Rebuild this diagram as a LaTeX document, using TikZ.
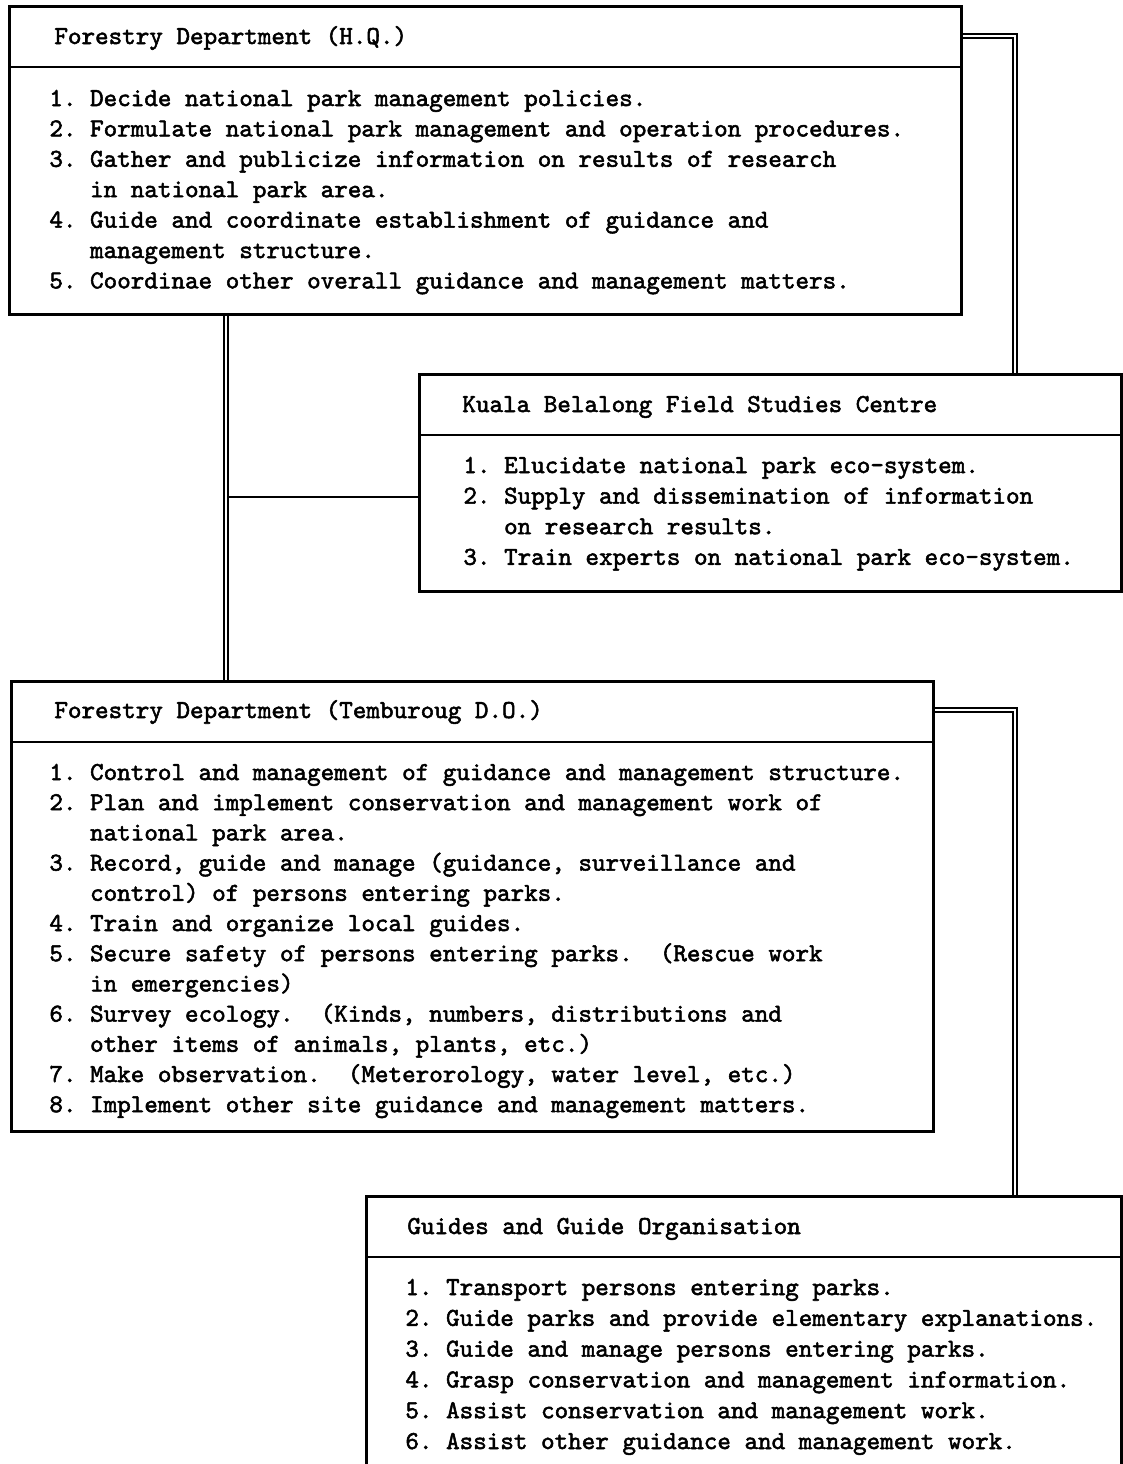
\documentclass[tikz,border=0pt]{standalone}
\usepackage{fontspec}
\newfontfamily\listfont[FakeBold=2]{lmmono10-regular.otf}
\usetikzlibrary{backgrounds}

\tikzset{
  unit/.style={draw, line width=1.4pt, anchor=north west, inner sep=0pt},
  head/.style={anchor=west, inner sep=0pt, text height=9pt, text depth=1pt,
    font=\listfont\fontsize{12.92}{15}\selectfont\frenchspacing},
  item/.style={head},
  rule/.style={line width=0.7pt},
  link/.style={line width=0.7pt},
  dbl/.style={double, line width=0.7pt, double distance=1.3pt}
}
\newcommand\ind{\hphantom{0.\ }}

\begin{document}
\begin{tikzpicture}[x=0.5pt, y=-0.5pt]
\clip (0,0) rectangle (1123,1464);

% head office
\node[unit, minimum width=476pt, minimum height=154pt] (hq) at (8,5) {};
\draw[rule] ([yshift=-31pt]hq.north west) -- ([yshift=-31pt]hq.north east);
\node[head] (hqhead) at (54,36) {Forestry Department (H.Q.)};
\foreach \txt [count=\i] in {
  {1. Decide national park management policies.},
  {2. Formulate national park management and operation procedures.},
  {3. Gather and publicize information on results of research},
  {\ind in national park area.},
  {4. Guide and coordinate establishment of guidance and},
  {\ind management structure.},
  {5. Coordinae other overall guidance and management matters.}}
  \node[item] (hq\i) at (49,98+30.4*\i-30.4) {\txt};

% field studies centre
\node[unit, minimum width=351pt, minimum height=108.5pt] (fsc) at (418,373) {};
\draw[rule] ([yshift=-31pt]fsc.north west) -- ([yshift=-31pt]fsc.north east);
\node[head] (fschead) at (462,404) {Kuala Belalong Field Studies Centre};
\foreach \txt [count=\i] in {
  {1. Elucidate national park eco-system.},
  {2. Supply and dissemination of information},
  {\ind on research results.},
  {3. Train experts on national park eco-system.}}
  \node[item] (fsc\i) at (463,465+30.6*\i-30.6) {\txt};

% district office
\node[unit, minimum width=461pt, minimum height=225pt] (tdo) at (10,680) {};
\draw[rule] ([yshift=-31pt]tdo.north west) -- ([yshift=-31pt]tdo.north east);
\node[head] (tdohead) at (54,710) {Forestry Department (Temburoug D.O.)};
\foreach \txt [count=\i] in {
  {1. Control and management of guidance and management structure.},
  {2. Plan and implement conservation and management work of},
  {\ind national park area.},
  {3. Record, guide and manage (guidance, surveillance and},
  {\ind control) of persons entering parks.},
  {4. Train and organize local guides.},
  {5. Secure safety of persons entering parks.\ \ (Rescue work},
  {\ind in emergencies)},
  {6. Survey ecology.\ \ (Kinds, numbers, distributions and},
  {\ind other items of animals, plants, etc.)},
  {7. Make observation.\ \ (Meterorology, water level, etc.)},
  {8. Implement other site guidance and management matters.}}
  \node[item] (tdo\i) at (49,772+30.2*\i-30.2) {\txt};

% guides
\node[unit, minimum width=377.5pt, minimum height=142.5pt] (guide) at (365,1195) {};
\draw[rule] ([yshift=-31pt]guide.north west) -- ([yshift=-31pt]guide.north east);
\node[head] (guidehead) at (407,1226) {Guides and Guide Organisation};
\foreach \txt [count=\i] in {
  {1. Transport persons entering parks.},
  {2. Guide parks and provide elementary explanations.},
  {3. Guide and manage persons entering parks.},
  {4. Grasp conservation and management information.},
  {5. Assist conservation and management work.},
  {6. Assist other guidance and management work.}}
  \node[item] (guide\i) at (405,1287+30.8*\i-30.8) {\txt};

% connectors
\begin{pgfonlayer}{background}
  \coordinate (hqbend) at (1015,36);
  \coordinate (trunk) at (226,497);
  \coordinate (tdobend) at (1015,710);
  \draw[link] (trunk) -- (trunk -| fsc.west);
  \draw[dbl] (hq.east |- hqbend) -- (hqbend) -- (hqbend |- fsc.north);
  \draw[dbl] (trunk |- hq.south) -- (trunk |- tdo.north);
  \draw[dbl] (tdo.east |- tdobend) -- (tdobend) -- (tdobend |- guide.north);
\end{pgfonlayer}
\end{tikzpicture}
\end{document}
